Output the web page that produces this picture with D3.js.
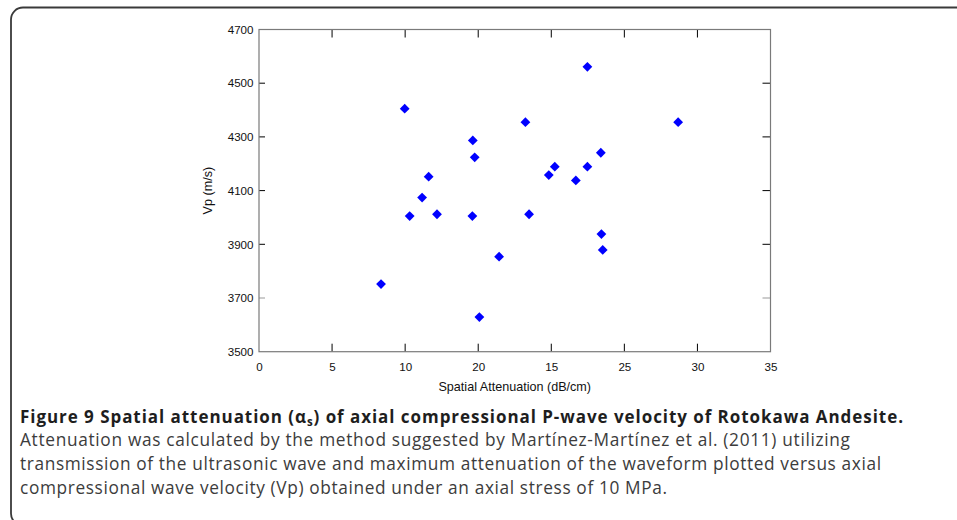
<!DOCTYPE html>
<html>
<head>
<meta charset="utf-8">
<script src="https://cdn.jsdelivr.net/npm/d3@7"></script>
<style>
  html, body { margin: 0; padding: 0; background: #fff; }
  svg { display: block; }
</style>
</head>
<body>
<svg id="chart" width="957" height="520"></svg>
<script>
// ---- data ----
const attenuation = [9.97, 14.63, 14.76, 11.61, 18.23, 22.47, 19.83, 20.24, 21.68, 22.47,
                     23.39, 28.68, 11.16, 10.31, 12.18, 14.6, 18.48, 16.43, 8.35, 15.08,
                     23.43, 23.52];
const vp = [4405, 4287, 4224, 4152, 4355, 4561, 4158, 4189, 4138, 4189,
            4241, 4355, 4074, 4005, 4012, 4005, 4012, 3854, 3752, 3629,
            3938, 3879];
const xTickValues = [0, 5, 10, 15, 20, 25, 30, 35];
const xTickLabels = ["0", "5", "10", "20", "15", "25", "30", "35"]; // as printed in the figure
const yTickValues = [3500, 3700, 3900, 4100, 4300, 4500, 4700];
const yTickLabels = ["3500", "3700", "3900", "4100", "4300", "4500", "4700"];
const xLabel = "Spatial Attenuation (dB/cm)";
const yLabel = "Vp (m/s)";
const titleParts = ["Figure 9 Spatial attenuation (α", "s", ") of axial compressional P-wave velocity of Rotokawa Andesite."];
const captionLines = [
  "Attenuation was calculated by the method suggested by Martínez-Martínez et al. (2011) utilizing",
  "transmission of the ultrasonic wave and maximum attenuation of the waveform plotted versus axial",
  "compressional wave velocity (Vp) obtained under an axial stress of 10 MPa."
];

const svg = d3.select("#chart");

// outer rounded frame
svg.append("rect")
  .attr("x", 11).attr("y", 7.5)
  .attr("width", 1000).attr("height", 518)
  .attr("rx", 12).attr("ry", 12)
  .attr("fill", "none").attr("stroke", "#3a3a3a").attr("stroke-width", 1.8);

const L = 259, R = 770.5, T = 29.5, B = 351.7;
const x = d3.scaleLinear().domain([0, 35]).range([L, R]);
const y = d3.scaleLinear().domain([3500, 4700]).range([B, T]);

const tickFont = "'Liberation Sans', Arial, sans-serif";

// axes with labels (bottom, left)
const xAxis = d3.axisBottom(x).tickValues(xTickValues)
  .tickFormat((d, i) => xTickLabels[i]).tickSize(0).tickPadding(11);
const gx = svg.append("g").attr("transform", `translate(0,${B})`).call(xAxis);
gx.select(".domain").remove();
gx.selectAll("text").attr("font-family", tickFont).attr("font-size", "11.6px").attr("fill", "#111");

const yAxis = d3.axisLeft(y).tickValues(yTickValues)
  .tickFormat((d, i) => yTickLabels[i]).tickSize(0).tickPadding(5.5);
const gy = svg.append("g").attr("transform", `translate(${L},0)`).call(yAxis);
gy.select(".domain").remove();
gy.selectAll("text").attr("font-family", tickFont).attr("font-size", "11.6px").attr("fill", "#111");

// inward tick marks
const inner = svg.append("g").attr("stroke-width", 1);
xTickValues.slice(1, -1).forEach(v => {
  inner.append("line").attr("x1", x(v)).attr("x2", x(v)).attr("y1", B).attr("y2", B - 8).attr("stroke", "#000");
  inner.append("line").attr("x1", x(v)).attr("x2", x(v)).attr("y1", T).attr("y2", T + 8).attr("stroke", "#000");
});
yTickValues.slice(1, -1).forEach(v => {
  const c = v === 3700 ? "#999" : "#000";
  inner.append("line").attr("y1", y(v)).attr("y2", y(v)).attr("x1", L).attr("x2", L + 6).attr("stroke", c);
  inner.append("line").attr("y1", y(v)).attr("y2", y(v)).attr("x1", R).attr("x2", R - 8).attr("stroke", c);
});

// plot frame
svg.append("rect")
  .attr("x", L).attr("y", T).attr("width", R - L).attr("height", B - T)
  .attr("fill", "none").attr("stroke", "#7a7a7a").attr("stroke-width", 1.2);

// points
const diamond = d3.symbol().type(d3.symbolSquare).size(48);
svg.append("g").selectAll("path")
  .data(attenuation.map((a, i) => [a, vp[i]]))
  .join("path")
  .attr("d", diamond)
  .attr("transform", d => `translate(${x(d[0])},${y(d[1])}) rotate(45)`)
  .attr("fill", "#0000ff");

// axis titles
svg.append("text")
  .attr("x", (L + R) / 2).attr("y", 390.5)
  .attr("text-anchor", "middle")
  .attr("font-family", tickFont).attr("font-size", "12.6px").attr("fill", "#111")
  .text(xLabel);
svg.append("text")
  .attr("transform", `translate(212,${(T + B) / 2}) rotate(-90)`)
  .attr("text-anchor", "middle")
  .attr("font-family", tickFont).attr("font-size", "12.6px").attr("fill", "#111")
  .text(yLabel);

// caption
const capFont = "'Open Sans', 'Noto Sans', sans-serif";
const capX = 20;
function fitWidth(sel, target) {
  const w = sel.node().getComputedTextLength();
  const fs = parseFloat(sel.attr("font-size"));
  sel.attr("font-size", (fs * target / w).toFixed(2) + "px");
}
const title = svg.append("text")
  .attr("x", capX).attr("y", 422.5)
  .attr("font-family", capFont).attr("font-size", "17px").attr("font-weight", "bold").attr("fill", "#1e1e1e");
title.append("tspan").text(titleParts[0]);
title.append("tspan").attr("font-size", "11.5px").attr("dy", 3).text(titleParts[1]);
title.append("tspan").attr("dy", -3).text(titleParts[2]);
title.attr("textLength", 903 - capX).attr("lengthAdjust", "spacing");

const lineEnds = [850, 881, 667];
captionLines.forEach((line, i) => {
  svg.append("text")
    .attr("x", capX).attr("y", 446 + i * 23.8)
    .attr("font-family", capFont).attr("font-size", "17.3px").attr("fill", "#3c3c3c")
    .attr("textLength", lineEnds[i] - capX).attr("lengthAdjust", "spacing")
    .text(line);
});
</script>
</body>
</html>
